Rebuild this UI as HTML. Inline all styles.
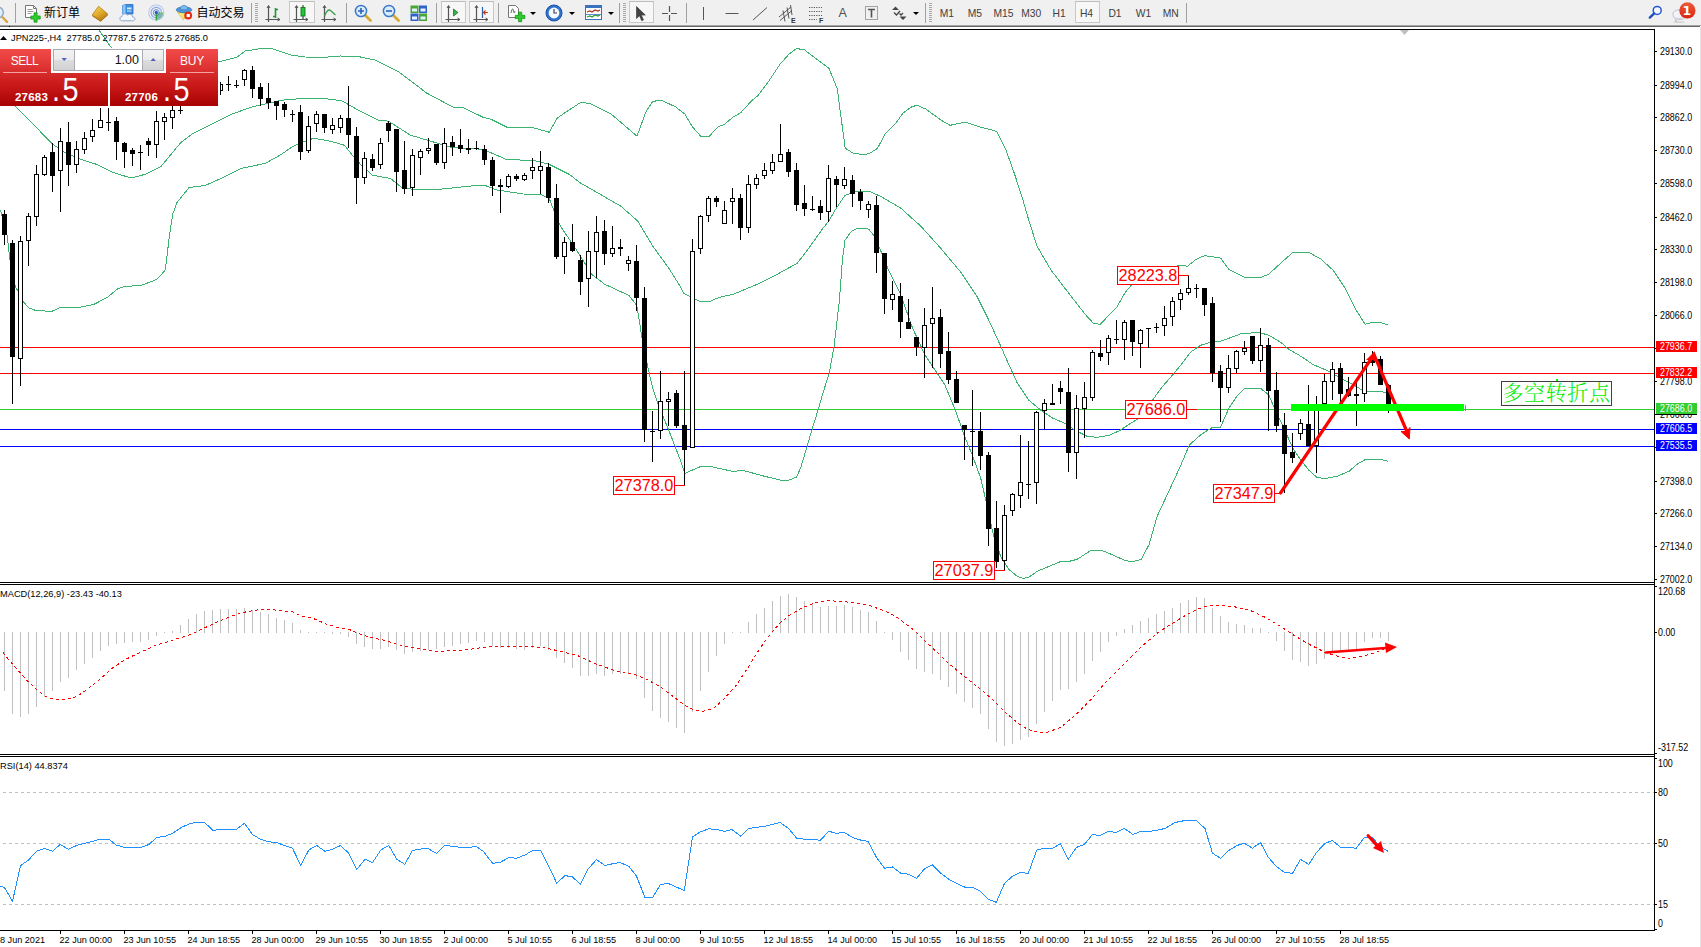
<!DOCTYPE html>
<html lang="zh">
<head>
<meta charset="utf-8">
<title>JPN225 H4</title>
<style>
html,body{margin:0;padding:0;background:#fff;}
body{width:1701px;height:947px;overflow:hidden;position:relative;font-family:"Liberation Sans","Noto Sans CJK SC",sans-serif;}
#tb{position:absolute;left:0;top:0;width:1701px;height:25px;background:#f0f0f0;border-bottom:1px solid #a6a6a6;}
#tb2{position:absolute;left:0;top:26px;width:1700px;height:1px;background:#666;}
#redge{position:absolute;left:1700px;top:27px;width:1px;height:920px;background:#e3e3e3;z-index:5}
.sep{position:absolute;top:3px;width:1px;height:20px;background:#a0a0a0;}
.grip{position:absolute;top:3px;width:3px;height:20px;background:repeating-linear-gradient(to bottom,#a8a8a8 0,#a8a8a8 1px,#f0f0f0 1px,#f0f0f0 2px);}
.act{position:absolute;top:1px;height:22px;width:24px;border:1px solid #c8c8c8;border-top-color:#bdbdbd;background:#f7f7f7;box-sizing:border-box;}
.tbt{position:absolute;top:5px;font-size:12px;line-height:14px;color:#000;white-space:nowrap;}
.tf{position:absolute;top:7px;width:30px;text-align:center;font-size:10.3px;line-height:13px;color:#404040;white-space:nowrap;}
.ic{position:absolute;top:4px;}
.dd{position:absolute;top:12px;width:0;height:0;border-left:3px solid transparent;border-right:3px solid transparent;border-top:3px solid #000;}
#panel{position:absolute;left:0;top:49px;width:218px;height:57px;}
#panel .blk{position:absolute;background:linear-gradient(to bottom,#f24a4a 0,#e03535 30%,#c81818 65%,#a80202 100%);}
#vol{position:absolute;left:53px;top:0;width:111px;height:22px;background:#fff;border:1px solid #a9a9b4;box-sizing:border-box;}
#vol .b{position:absolute;top:0;width:21px;height:20px;background:linear-gradient(to bottom,#f2f2f2 0,#ebebeb 48%,#dcdcdc 52%,#d2d2d2 100%);box-sizing:border-box;}
#vol .f{position:absolute;left:21px;top:0;width:67px;height:20px;background:#fff;font-size:12.5px;line-height:20px;text-align:right;padding-right:3px;box-sizing:border-box;color:#111;}
.pw{position:absolute;color:#fff;white-space:nowrap;}
</style>
</head>
<body>
<div id="tb">
<!-- cut-off magnifier at far left -->
<svg class="ic" style="left:0;top:5px" width="10" height="18" viewBox="0 0 10 18"><circle cx="-2.200" cy="7.500" r="5.500" fill="#dfeefa" stroke="#8aa6c8" stroke-width="1.400"/><line x1="2.800" y1="12.500" x2="7" y2="16.800" stroke="#d9a441" stroke-width="2.4" stroke-linecap="round"/></svg>
<div class="sep" style="left:15px"></div>
<!-- new order -->
<svg class="ic" style="left:24px;top:4px" width="18" height="19" viewBox="0 0 18 19"><path d="M1.5 1.5h8l3 3v9h-11z" fill="#fff" stroke="#777" stroke-width="1"/><path d="M9.5 1.5v3h3" fill="none" stroke="#777"/><path d="M3.5 5.5h5M3.5 7.5h6M3.5 9.5h4" stroke="#999" stroke-width="1"/><path d="M10 9h4v4h4v4h-4v4h-4v-4H6v-4h4z" transform="translate(2.2,1.8) scale(0.78)" fill="#2ccc2c" stroke="#159015" stroke-width="0.9"/></svg>
<div class="tbt" style="left:44px;top:5.5px">新订单</div>
<!-- yellow tag -->
<svg class="ic" style="left:91px;top:5px" width="18" height="17" viewBox="0 0 18 17"><defs><linearGradient id="gy" x1="0" y1="0" x2="0.600" y2="1"><stop offset="0" stop-color="#f8d860"/><stop offset="0.550" stop-color="#e4ac2c"/><stop offset="1" stop-color="#b87c10"/></linearGradient></defs><path d="M1.200 10L7.600 1.200 16.800 9l-7.200 6.800z" fill="url(#gy)" stroke="#a87410" stroke-width="0.700"/><path d="M1.200 10l8.400 5.800 7.200-6.800-.200 1.400-7 6.400-8.200-5.600z" fill="#a86c0c"/></svg>
<!-- cloud -->
<svg class="ic" style="left:119px;top:4px" width="18" height="18" viewBox="0 0 18 18"><path d="M3.500 1.500l3-1h7.500v9.500h-10.500z" fill="#3d8de0" stroke="#2a6cc0" stroke-width="0.800"/><path d="M3.500 1.500l3-1v9.500h-3z" fill="#8cc4f4"/><rect x="8" y="3.500" width="4.500" height="1.800" fill="#d8ecfc"/><rect x="8" y="6.500" width="4.500" height="1.200" fill="#bcdcf8"/><path d="M3.300 16.800c-3 0-3.200-4.200-.200-4.500.400-2.800 4.200-3.200 5.300-1.100 2-1.900 5.300-.700 5.200 1.800 3.300.200 3.100 3.800-.200 3.800z" fill="#f4f7fc" stroke="#7f9cc8" stroke-width="0.900"/></svg>
<!-- signal -->
<svg class="ic" style="left:147px;top:4px" width="19" height="19" viewBox="0 0 19 19"><path d="M9.300 8.600v8a8 8 0 0 0 7.600-8z" fill="#5cb868" opacity="0.850"/><circle cx="9.300" cy="8.600" r="7.600" fill="none" stroke="#b4c8ec" stroke-width="1.100"/><circle cx="9.300" cy="8.600" r="5.200" fill="none" stroke="#8aa8e0" stroke-width="1.100"/><circle cx="9.300" cy="8.600" r="3" fill="none" stroke="#6488d4" stroke-width="1"/><path d="M9.300 8.600v8" stroke="#28a038" stroke-width="1.300"/><circle cx="9.300" cy="8.400" r="1.600" fill="#2858c8"/></svg>
<!-- expert hat -->
<svg class="ic" style="left:174.500px;top:3px" width="19" height="19" viewBox="0 0 19 19"><path d="M2.500 9c2 .500 10 .500 12.500 0l-3.500 4.500-3.300 3z" fill="#f4d23c" stroke="#c09418" stroke-width="0.700"/><path d="M2.500 9l5.700 7.500 1-6z" fill="#f8e47c"/><ellipse cx="9" cy="6.800" rx="7.800" ry="2.900" fill="#4c98dc" stroke="#2c70b4" stroke-width="0.700"/><path d="M5 6c.300-4.800 7.700-4.800 8 0-2 1.200-6 1.200-8 0z" fill="#7cbcec" stroke="#2c70b4" stroke-width="0.600"/><circle cx="13.200" cy="12.500" r="3.900" fill="#e02c14"/><rect x="11.600" y="10.900" width="3.200" height="3.200" fill="#fff"/></svg>
<div class="tbt" style="left:196.500px;top:5.5px">自动交易</div>
<div class="sep" style="left:251px"></div>
<div class="grip" style="left:255px"></div>
<!-- bar chart -->
<svg class="ic" style="left:265px;top:4px" width="18" height="19" viewBox="0 0 18 19"><path d="M3.500 2v16M0.500 15.500h14" stroke="#555" stroke-width="1.200" fill="none"/><path d="M2 4l1.500-2.500L5 4M12.500 14l2.500 1.500-2.500 1.500" fill="none" stroke="#555" stroke-width="1"/><path d="M10.500 4v10M10.500 5.500h2.500M8 12.500h2.500" stroke="#1e9a32" stroke-width="1.600" fill="none"/></svg>
<div class="act" style="left:289px;width:26px"></div>
<!-- candle chart -->
<svg class="ic" style="left:293px;top:4px" width="18" height="19" viewBox="0 0 18 19"><path d="M3.500 2v16M0.500 15.500h14" stroke="#555" stroke-width="1.200" fill="none"/><path d="M2 4l1.500-2.500L5 4M12.500 14l2.500 1.500-2.500 1.500" fill="none" stroke="#555" stroke-width="1"/><path d="M10 1v14" stroke="#222" stroke-width="1"/><rect x="8" y="3.500" width="4" height="8.500" fill="#22c43a" stroke="#0f7a1e" stroke-width="0.900"/></svg>
<!-- line chart -->
<svg class="ic" style="left:321px;top:4px" width="18" height="19" viewBox="0 0 18 19"><path d="M3.500 2v16M0.500 15.500h14" stroke="#555" stroke-width="1.200" fill="none"/><path d="M2 4l1.500-2.500L5 4M12.500 14l2.500 1.500-2.500 1.500" fill="none" stroke="#555" stroke-width="1"/><path d="M3.500 12c2-5 4-7 6-5.500s3 3 5 4.500" fill="none" stroke="#3a9a48" stroke-width="1.300"/></svg>
<div class="sep" style="left:346px"></div>
<!-- zoom in -->
<svg class="ic" style="left:354px;top:4px" width="19" height="19" viewBox="0 0 19 19"><line x1="10.500" y1="10.500" x2="16.500" y2="16.500" stroke="#d8a832" stroke-width="2.800" stroke-linecap="round"/><circle cx="7" cy="7" r="5.600" fill="#d9ecfb" stroke="#3c78c8" stroke-width="1.500"/><path d="M4 7h6M7 4v6" stroke="#2a62b8" stroke-width="1.600"/></svg>
<!-- zoom out -->
<svg class="ic" style="left:382px;top:4px" width="19" height="19" viewBox="0 0 19 19"><line x1="10.500" y1="10.500" x2="16.500" y2="16.500" stroke="#d8a832" stroke-width="2.800" stroke-linecap="round"/><circle cx="7" cy="7" r="5.600" fill="#d9ecfb" stroke="#3c78c8" stroke-width="1.500"/><path d="M4 7h6" stroke="#2a62b8" stroke-width="1.600"/></svg>
<!-- tile -->
<svg class="ic" style="left:410px;top:5px" width="18" height="17" viewBox="0 0 18 17"><rect x="0.500" y="0.500" width="8" height="7.500" fill="#46a636"/><rect x="9" y="0.500" width="8" height="7.500" fill="#2f63c8"/><rect x="0.500" y="8.500" width="8" height="7.500" fill="#2f63c8"/><rect x="9" y="8.500" width="8" height="7.500" fill="#46a636"/><g fill="#e8f0ff"><rect x="2" y="3.500" width="5" height="3"/><rect x="10.500" y="3.500" width="5" height="3"/><rect x="2" y="11.500" width="5" height="3"/><rect x="10.500" y="11.500" width="5" height="3"/></g></svg>
<div class="sep" style="left:436px"></div>
<div class="act" style="left:441px;width:25px"></div>
<svg class="ic" style="left:445px;top:4px" width="18" height="19" viewBox="0 0 18 19"><path d="M3.500 2v16M0.500 15.500h14" stroke="#555" stroke-width="1.200" fill="none"/><path d="M2 4l1.500-2.500L5 4M12.500 14l2.500 1.500-2.500 1.500" fill="none" stroke="#555" stroke-width="1"/><path d="M8.500 5l4.500 3.500-4.500 3.500z" fill="#38b24a" stroke="#1c7a2a" stroke-width="0.800"/></svg>
<div class="act" style="left:469px;width:25px"></div>
<svg class="ic" style="left:473px;top:4px" width="18" height="19" viewBox="0 0 18 19"><path d="M3.500 2v16M0.500 15.500h14" stroke="#555" stroke-width="1.200" fill="none"/><path d="M2 4l1.500-2.500L5 4M12.500 14l2.500 1.500-2.500 1.500" fill="none" stroke="#555" stroke-width="1"/><path d="M9.500 3v11" stroke="#2a5fb0" stroke-width="1.200"/><path d="M15 8.500h-4M12.500 6.500l-2 2 2 2" fill="none" stroke="#d03818" stroke-width="1.200"/></svg>
<div class="sep" style="left:498px"></div>
<!-- indicators + -->
<svg class="ic" style="left:507px;top:4px" width="20" height="19" viewBox="0 0 20 19"><path d="M1.500 1.500h7l3 3v9h-10z" fill="#fff" stroke="#777"/><path d="M4 9c1-5 2-5 2.500-2s1 2 1.500 0" fill="none" stroke="#555" stroke-width="0.900"/><path d="M10 7h4v4h4v4h-4v4h-4v-4H6v-4h4z" transform="translate(3.500,2.500) scale(0.800)" fill="#2ccc2c" stroke="#159015" stroke-width="0.900"/></svg>
<div class="dd" style="left:530px"></div>
<!-- clock -->
<svg class="ic" style="left:545px;top:4px" width="18" height="18" viewBox="0 0 18 18"><circle cx="9" cy="9" r="8" fill="#2f72d0" stroke="#1b4fa0" stroke-width="1"/><circle cx="9" cy="9" r="5.400" fill="#f4f8ff"/><path d="M9 5v4h3" fill="none" stroke="#444" stroke-width="1.200"/></svg>
<div class="dd" style="left:569px"></div>
<!-- template -->
<svg class="ic" style="left:585px;top:5px" width="17" height="15" viewBox="0 0 17 15"><rect x="0.500" y="0.500" width="16" height="14" fill="#fff" stroke="#3a72c0"/><rect x="0.500" y="0.500" width="16" height="2.500" fill="#3a72c0"/><path d="M2 7l3-1 2 1 3-2 3 1 2-1" fill="none" stroke="#b03020" stroke-width="1.200"/><path d="M2 12l3-1 2 1 3-2 3 1 2-1" fill="none" stroke="#2c9a3a" stroke-width="1.200"/><path d="M1 9.500h15" stroke="#3a72c0" stroke-width="0.800"/></svg>
<div class="dd" style="left:608px"></div>
<div class="sep" style="left:619px"></div>
<div class="grip" style="left:623px"></div>
<div class="act" style="left:629px;width:25px"></div>
<svg class="ic" style="left:636px;top:6px" width="10" height="16" viewBox="0 0 10 16"><path d="M0.500 0.500v12l3-2.800 2.200 5 1.800-.8-2.200-4.800h4z" fill="#444" stroke="#333" stroke-width="0.600"/></svg>
<svg class="ic" style="left:661px;top:5px" width="17" height="17" viewBox="0 0 17 17"><path d="M8.500 1v6M8.500 10v6M1 8.500h6M10 8.500h6" stroke="#555" stroke-width="1.200"/></svg>
<div class="sep" style="left:686px"></div>
<svg class="ic" style="left:699px;top:5px" width="8" height="17" viewBox="0 0 8 17"><path d="M4.5 2v13" stroke="#555" stroke-width="1"/></svg>
<svg class="ic" style="left:724px;top:5px" width="16" height="17" viewBox="0 0 16 17"><path d="M1.500 8.500h13" stroke="#555" stroke-width="1"/></svg>
<svg class="ic" style="left:751px;top:5px" width="18" height="17" viewBox="0 0 18 17"><path d="M2 15L16 2.500" stroke="#555" stroke-width="1"/></svg>
<svg class="ic" style="left:778px;top:4px" width="20" height="19" viewBox="0 0 20 19"><path d="M1 13L13 3M2 16.500L14 6.500M5 6.500l2 11M9 3.500l2 11M12.500 1l1.500 10" stroke="#555" stroke-width="1" fill="none"/><text x="13" y="18.500" font-family="Liberation Sans,sans-serif" font-size="7" font-weight="bold" fill="#333">E</text></svg>
<svg class="ic" style="left:808px;top:5px" width="18" height="18" viewBox="0 0 18 18"><path d="M1 2.500h13M1 6.500h13M1 10.500h13M1 14.500h8" stroke="#555" stroke-width="1" stroke-dasharray="1.200,1.200"/><text x="11" y="17.500" font-family="Liberation Sans,sans-serif" font-size="7" font-weight="bold" fill="#333">F</text></svg>
<div class="tbt" style="left:838.5px;top:6px;font-size:12.5px;line-height:15px;color:#505050">A</div>
<svg class="ic" style="left:864px;top:5px" width="16" height="16" viewBox="0 0 16 16"><rect x="1.500" y="1.500" width="12" height="13" fill="none" stroke="#555" stroke-width="1" stroke-dasharray="1,1"/><path d="M4 4.500h7M7.500 4.500v8" stroke="#555" stroke-width="1.600"/></svg>
<svg class="ic" style="left:891px;top:6px" width="17" height="15" viewBox="0 0 17 15"><path d="M4.500 0.500l3.500 3.500h-7zM12 14l-3.500-3.500h7z" fill="#444"/><path d="M3 6.500l2.500 2.500 3.500-4M8.500 7.500l1.500 1.500 2-2" fill="none" stroke="#444" stroke-width="1.300"/></svg>
<div class="dd" style="left:913px"></div>
<div class="sep" style="left:925px"></div>
<div class="grip" style="left:929px"></div>
<div class="tf" style="left:931.9px">M1</div>
<div class="tf" style="left:959.8px">M5</div>
<div class="tf" style="left:988.4px">M15</div>
<div class="tf" style="left:1016.3px">M30</div>
<div class="tf" style="left:1044.2px">H1</div>
<div class="act" style="left:1075px;width:25px"></div>
<div class="tf" style="left:1071.5px">H4</div>
<div class="tf" style="left:1100.0px">D1</div>
<div class="tf" style="left:1128.6px">W1</div>
<div class="tf" style="left:1155.7px">MN</div>
<div class="sep" style="left:1186px"></div>
<!-- search -->
<svg class="ic" style="left:1646.500px;top:5px" width="16" height="16" viewBox="0 0 16 16"><circle cx="10.200" cy="5.400" r="4" fill="#f4f6fe" stroke="#2858d0" stroke-width="1.500"/><line x1="7.200" y1="8.400" x2="2.800" y2="12.600" stroke="#1c50c4" stroke-width="2.400" stroke-linecap="round"/></svg>
<!-- chat -->
<svg class="ic" style="left:1666px;top:1px" width="33" height="24" viewBox="0 0 33 24"><defs><linearGradient id="gb" x1="0" y1="0" x2="0" y2="1"><stop offset="0" stop-color="#ec5c3c"/><stop offset="1" stop-color="#d82410"/></linearGradient></defs><ellipse cx="13" cy="21.200" rx="6" ry="0.900" fill="#c8c8c8" opacity="0.700"/><path d="M7 13c0-5.500 12.500-5.500 12.500.500s-5.500 5-8 4.600l-1.600 2.600-.600-3c-1.500-.900-2.300-2.500-2.300-4.700z" fill="#f2f2f8" stroke="#b4b4bc" stroke-width="0.800"/><path d="M8 15.500c2 2 8 2 10.500-.500-1 3-7 4-9 2.500z" fill="#d4d4e0"/><circle cx="21.400" cy="9.400" r="8.100" fill="url(#gb)"/><text x="20.800" y="14" text-anchor="middle" font-family="DejaVu Sans,Liberation Sans,sans-serif" font-size="12.500" font-weight="bold" fill="#fff">1</text></svg>
</div>
<div id="tb2"></div><div style="position:absolute;left:9px;top:26px;width:1px;height:3px;background:#000"></div><div id="redge"></div>
<svg id="chart" width="1701" height="947" viewBox="0 0 1701 947" style="position:absolute;left:0;top:0">
<defs><clipPath id="cm"><rect x="0" y="30" width="1654" height="552"/></clipPath></defs>
<rect x="0" y="27" width="1701" height="920" fill="#fff"/>
<g shape-rendering="crispEdges">
<rect x="0" y="347" width="1654" height="1" fill="#ff0000"/>
<rect x="0" y="373" width="1654" height="1" fill="#ff0000"/>
<rect x="0" y="409" width="1654" height="1" fill="#32cd32"/>
<rect x="0" y="429" width="1654" height="1" fill="#0000ff"/>
<rect x="0" y="446" width="1654" height="1" fill="#0000ff"/>
</g>
<g clip-path="url(#cm)" fill="none" stroke="#3cb371" stroke-width="1" shape-rendering="crispEdges">
<polyline points="97.0,27.0 99.0,30.0 110.0,46.0 125.5,66.0 150.5,78.0 180.5,74.0 205.5,65.0 221.2,61.1 237.2,57.1 245.2,51.0 261.3,48.5 273.3,49.0 291.4,55.0 305.4,57.0 321.5,57.5 340.5,56.0 360.5,57.0 374.6,60.0 398.7,72.0 426.8,93.1 452.9,107.1 462.9,107.5 483.0,117.2 491.0,119.2 507.0,127.2 531.1,127.2 549.2,132.2 557.2,118.2 567.2,111.2 581.3,102.1 591.3,104.1 611.3,114.2 637.0,136.2 640.5,126.6 646.3,110.9 652.7,101.4 661.4,100.2 675.4,106.8 684.7,113.8 692.2,126.6 700.9,136.4 709.1,136.4 717.8,127.1 724.7,124.2 733.5,116.7 740.4,113.0 752.0,100.4 757.9,95.8 768.3,81.8 779.9,64.4 789.2,53.9 796.2,48.7 800.5,49.1 804.7,50.0 816.7,59.1 828.8,68.1 833.8,80.1 837.4,89.1 839.8,108.2 842.8,130.3 845.2,148.3 852.8,152.9 860.9,154.3 868.9,153.9 877.5,148.3 884.9,134.3 895.0,124.3 903.0,113.2 911.0,107.2 917.0,105.2 926.1,109.2 941.1,120.2 950.1,125.3 965.2,122.2 981.2,127.3 993.3,130.3 997.3,132.3 1005.3,148.3 1013.3,170.4 1021.3,194.5 1027.2,215.0 1037.0,246.2 1051.1,270.2 1071.1,296.3 1085.2,314.4 1093.2,323.0 1100.2,324.4 1117.3,306.4 1125.3,292.3 1131.3,285.3 1150.5,275.0 1179.5,265.2 1187.5,266.2 1196.5,259.1 1204.6,255.6 1220.6,258.1 1228.6,269.1 1244.7,277.5 1260.7,277.5 1268.8,274.1 1280.8,263.1 1292.8,252.4 1308.9,252.4 1320.9,259.1 1333.0,270.1 1345.0,288.1 1355.0,308.2 1365.1,324.3 1371.1,322.8 1381.1,322.8 1388.5,325.3"/>
<polyline points="0.5,92.0 17.5,108.2 52.7,144.3 64.7,152.4 80.7,159.4 96.8,164.4 112.8,172.4 130.9,178.0 144.9,174.4 161.0,166.4 171.0,154.4 181.0,142.3 193.1,133.3 211.1,124.3 231.2,114.3 251.3,107.2 281.3,100.2 305.4,98.2 330.5,99.1 342.5,101.1 356.5,109.1 378.5,120.2 388.5,121.2 410.5,135.2 430.8,141.2 450.9,147.3 483.0,149.3 507.0,159.7 533.1,160.3 549.0,164.3 569.2,174.3 580.5,183.0 592.7,190.0 620.7,206.1 637.8,221.1 652.8,246.2 668.9,268.3 678.9,284.3 683.9,293.3 689.9,296.3 699.0,301.0 710.0,301.4 719.0,297.4 733.1,294.3 757.2,284.3 777.2,274.3 797.3,263.2 807.3,250.2 821.7,230.0 829.4,220.1 834.8,210.5 844.8,195.5 856.9,191.5 868.9,191.1 880.9,196.5 900.6,208.0 920.7,226.1 940.7,248.2 960.8,272.2 976.9,296.3 988.9,320.4 1000.9,346.5 1006.8,360.0 1016.8,382.1 1028.8,400.2 1040.9,410.2 1052.9,418.2 1064.9,423.3 1075.0,430.3 1087.0,436.3 1097.0,437.3 1109.1,435.3 1119.1,430.9 1129.1,424.3 1139.2,418.2 1153.2,399.2 1161.2,388.1 1173.3,374.1 1180.5,365.4 1190.5,352.3 1200.5,345.3 1208.6,342.9 1220.6,341.3 1240.7,333.9 1258.7,332.3 1268.8,335.3 1280.8,342.3 1288.8,349.3 1300.9,356.3 1312.9,364.4 1328.9,371.4 1341.0,378.4 1353.0,384.4 1361.0,389.4 1369.1,391.5 1381.1,391.5 1387.1,393.5"/>
<polyline points="0.5,210.5 7.0,234.8 10.3,262.7 15.5,287.0 19.1,292.9 23.7,302.2 28.8,308.0 35.3,310.3 51.5,311.5 60.5,307.3 79.5,307.3 93.5,304.5 107.3,297.5 117.8,288.7 124.7,286.4 141.0,285.5 156.1,279.7 164.9,270.8 166.5,260.4 169.5,234.8 172.8,213.9 177.0,202.5 189.1,187.5 205.1,185.5 221.2,178.4 241.2,168.4 265.3,163.4 281.3,154.4 291.4,147.4 299.4,143.3 313.4,138.3 325.5,140.3 330.5,141.2 344.5,145.3 352.5,155.3 360.5,164.3 372.5,175.3 390.5,178.4 402.7,188.4 416.8,189.4 438.8,189.4 470.9,186.0 485.0,185.4 497.0,190.0 523.1,194.0 541.1,194.4 549.2,198.4 554.5,212.1 560.5,226.1 576.6,250.2 591.7,274.3 604.7,284.3 628.8,295.3 636.8,305.4 641.8,336.5 647.6,366.1 652.7,388.2 658.7,406.2 664.7,420.3 672.7,440.3 679.7,458.4 684.8,473.4 700.8,466.4 709.8,466.4 732.9,471.4 742.9,470.4 765.0,476.4 780.0,480.0 789.1,480.0 796.7,477.0 801.1,466.4 807.1,446.3 812.1,429.3 818.2,409.6 823.2,392.2 829.2,373.5 834.0,347.0 839.4,300.4 842.4,260.2 845.0,240.2 851.4,231.2 857.5,228.1 865.5,228.1 868.5,229.1 874.5,236.1 880.5,250.2 888.5,270.2 900.5,294.3 912.7,328.4 924.7,354.5 932.5,366.1 944.5,384.1 954.6,408.2 964.6,436.3 972.7,456.0 980.7,478.1 986.7,504.2 993.7,536.3 1000.7,556.4 1008.8,569.4 1016.8,576.0 1022.8,578.4 1028.8,577.4 1036.9,571.4 1048.9,566.4 1060.9,561.4 1068.9,561.4 1077.0,559.4 1091.0,550.3 1101.0,550.0 1111.1,554.3 1125.1,560.4 1132.1,561.8 1141.2,559.4 1149.2,544.3 1157.2,516.2 1169.3,490.2 1181.3,464.1 1189.3,445.0 1201.3,434.3 1211.4,428.0 1220.6,427.0 1229.0,408.0 1237.0,396.0 1244.7,388.4 1250.7,389.0 1260.7,388.4 1268.8,395.0 1274.8,409.0 1284.8,430.2 1292.8,448.2 1300.9,460.2 1308.9,470.3 1316.9,477.3 1324.9,478.7 1337.0,476.3 1349.0,471.3 1357.0,464.3 1365.1,459.6 1381.1,459.6 1388.1,461.2"/>
</g>
<g shape-rendering="crispEdges">
<rect x="4" y="210" width="1" height="35" fill="#000"/>
<rect x="2" y="214" width="5" height="21" fill="#000"/>
<rect x="12" y="240" width="1" height="164" fill="#000"/>
<rect x="10" y="243" width="5" height="114" fill="#000"/>
<rect x="20" y="236" width="1" height="150" fill="#000"/>
<rect x="18.5" y="241.5" width="4" height="117" fill="#fff" stroke="#000" stroke-width="1"/>
<rect x="28" y="213" width="1" height="53" fill="#000"/>
<rect x="26.5" y="216.5" width="4" height="24" fill="#fff" stroke="#000" stroke-width="1"/>
<rect x="36" y="165" width="1" height="61" fill="#000"/>
<rect x="34.5" y="174.5" width="4" height="42" fill="#fff" stroke="#000" stroke-width="1"/>
<rect x="44" y="155" width="1" height="21" fill="#000"/>
<rect x="42.5" y="157.5" width="4" height="17" fill="#fff" stroke="#000" stroke-width="1"/>
<rect x="52" y="143" width="1" height="49" fill="#000"/>
<rect x="50" y="152" width="5" height="24" fill="#000"/>
<rect x="60" y="128" width="1" height="84" fill="#000"/>
<rect x="58.5" y="141.5" width="4" height="29" fill="#fff" stroke="#000" stroke-width="1"/>
<rect x="68" y="122" width="1" height="64" fill="#000"/>
<rect x="66" y="142" width="5" height="23" fill="#000"/>
<rect x="76" y="141" width="1" height="32" fill="#000"/>
<rect x="74.5" y="149.5" width="4" height="15" fill="#fff" stroke="#000" stroke-width="1"/>
<rect x="84" y="132" width="1" height="22" fill="#000"/>
<rect x="82.5" y="138.5" width="4" height="11" fill="#fff" stroke="#000" stroke-width="1"/>
<rect x="92" y="119" width="1" height="23" fill="#000"/>
<rect x="90.5" y="130.5" width="4" height="6" fill="#fff" stroke="#000" stroke-width="1"/>
<rect x="100" y="108" width="1" height="20" fill="#000"/>
<rect x="98.5" y="120.5" width="4" height="7" fill="#fff" stroke="#000" stroke-width="1"/>
<rect x="108" y="108" width="1" height="23" fill="#000"/>
<rect x="106" y="122" width="5" height="1" fill="#000"/>
<rect x="116" y="117" width="1" height="43" fill="#000"/>
<rect x="114" y="121" width="5" height="21" fill="#000"/>
<rect x="124" y="142" width="1" height="26" fill="#000"/>
<rect x="122" y="143" width="5" height="9" fill="#000"/>
<rect x="132" y="148" width="1" height="18" fill="#000"/>
<rect x="130" y="150" width="5" height="4" fill="#000"/>
<rect x="140" y="145" width="1" height="25" fill="#000"/>
<rect x="138" y="152" width="5" height="1" fill="#000"/>
<rect x="148" y="138" width="1" height="18" fill="#000"/>
<rect x="146" y="141" width="5" height="4" fill="#000"/>
<rect x="156" y="111" width="1" height="47" fill="#000"/>
<rect x="154.5" y="121.5" width="4" height="23" fill="#fff" stroke="#000" stroke-width="1"/>
<rect x="164" y="113" width="1" height="27" fill="#000"/>
<rect x="162.5" y="117.5" width="4" height="4" fill="#fff" stroke="#000" stroke-width="1"/>
<rect x="172" y="104" width="1" height="25" fill="#000"/>
<rect x="170.5" y="110.5" width="4" height="7" fill="#fff" stroke="#000" stroke-width="1"/>
<rect x="180" y="100" width="1" height="14" fill="#000"/>
<rect x="178" y="110" width="5" height="1" fill="#000"/>
<rect x="188" y="92" width="1" height="12" fill="#000"/>
<rect x="186.5" y="96.5" width="4" height="6" fill="#fff" stroke="#000" stroke-width="1"/>
<rect x="196" y="86" width="1" height="13" fill="#000"/>
<rect x="194.5" y="90.5" width="4" height="6" fill="#fff" stroke="#000" stroke-width="1"/>
<rect x="204" y="84" width="1" height="12" fill="#000"/>
<rect x="202" y="88" width="5" height="4" fill="#000"/>
<rect x="212" y="80" width="1" height="13" fill="#000"/>
<rect x="210.5" y="84.5" width="4" height="5" fill="#fff" stroke="#000" stroke-width="1"/>
<rect x="220" y="82" width="1" height="13" fill="#000"/>
<rect x="221" y="84" width="2" height="1" fill="#000"/><rect x="221" y="90" width="2" height="1" fill="#000"/><rect x="222" y="84" width="1" height="7" fill="#000"/>
<rect x="228" y="76" width="1" height="15" fill="#000"/>
<rect x="226" y="84" width="5" height="1" fill="#000"/>
<rect x="236" y="80" width="1" height="8" fill="#000"/>
<rect x="234" y="85" width="5" height="1" fill="#000"/>
<rect x="244" y="69" width="1" height="17" fill="#000"/>
<rect x="242.5" y="70.5" width="4" height="9" fill="#fff" stroke="#000" stroke-width="1"/>
<rect x="252" y="66" width="1" height="32" fill="#000"/>
<rect x="250" y="70" width="5" height="19" fill="#000"/>
<rect x="260" y="83" width="1" height="23" fill="#000"/>
<rect x="258" y="87" width="5" height="12" fill="#000"/>
<rect x="268" y="83" width="1" height="26" fill="#000"/>
<rect x="266" y="98" width="5" height="5" fill="#000"/>
<rect x="276" y="101" width="1" height="19" fill="#000"/>
<rect x="274" y="101" width="5" height="5" fill="#000"/>
<rect x="284" y="102" width="1" height="15" fill="#000"/>
<rect x="282" y="104" width="5" height="6" fill="#000"/>
<rect x="292" y="110" width="1" height="12" fill="#000"/>
<rect x="290" y="114" width="5" height="1" fill="#000"/>
<rect x="300" y="105" width="1" height="55" fill="#000"/>
<rect x="298" y="112" width="5" height="40" fill="#000"/>
<rect x="308" y="116" width="1" height="37" fill="#000"/>
<rect x="306.5" y="126.5" width="4" height="24" fill="#fff" stroke="#000" stroke-width="1"/>
<rect x="316" y="111" width="1" height="21" fill="#000"/>
<rect x="314.5" y="114.5" width="4" height="9" fill="#fff" stroke="#000" stroke-width="1"/>
<rect x="324" y="114" width="1" height="19" fill="#000"/>
<rect x="322" y="114" width="5" height="14" fill="#000"/>
<rect x="332" y="118" width="1" height="16" fill="#000"/>
<rect x="330.5" y="125.5" width="4" height="4" fill="#fff" stroke="#000" stroke-width="1"/>
<rect x="340" y="115" width="1" height="18" fill="#000"/>
<rect x="338.5" y="118.5" width="4" height="9" fill="#fff" stroke="#000" stroke-width="1"/>
<rect x="348" y="86" width="1" height="62" fill="#000"/>
<rect x="346" y="118" width="5" height="17" fill="#000"/>
<rect x="356" y="127" width="1" height="77" fill="#000"/>
<rect x="354" y="136" width="5" height="42" fill="#000"/>
<rect x="364" y="152" width="1" height="32" fill="#000"/>
<rect x="362.5" y="158.5" width="4" height="19" fill="#fff" stroke="#000" stroke-width="1"/>
<rect x="372" y="154" width="1" height="17" fill="#000"/>
<rect x="370" y="159" width="5" height="9" fill="#000"/>
<rect x="380" y="138" width="1" height="31" fill="#000"/>
<rect x="378.5" y="143.5" width="4" height="21" fill="#fff" stroke="#000" stroke-width="1"/>
<rect x="388" y="121" width="1" height="21" fill="#000"/>
<rect x="386" y="123" width="5" height="8" fill="#000"/>
<rect x="396" y="129" width="1" height="63" fill="#000"/>
<rect x="394" y="129" width="5" height="43" fill="#000"/>
<rect x="404" y="141" width="1" height="53" fill="#000"/>
<rect x="402" y="170" width="5" height="19" fill="#000"/>
<rect x="412" y="149" width="1" height="47" fill="#000"/>
<rect x="410.5" y="155.5" width="4" height="32" fill="#fff" stroke="#000" stroke-width="1"/>
<rect x="420" y="149" width="1" height="26" fill="#000"/>
<rect x="418.5" y="151.5" width="4" height="6" fill="#fff" stroke="#000" stroke-width="1"/>
<rect x="428" y="138" width="1" height="16" fill="#000"/>
<rect x="426.5" y="148.5" width="4" height="2" fill="#fff" stroke="#000" stroke-width="1"/>
<rect x="436" y="144" width="1" height="21" fill="#000"/>
<rect x="434" y="144" width="5" height="19" fill="#000"/>
<rect x="444" y="128" width="1" height="41" fill="#000"/>
<rect x="442.5" y="143.5" width="4" height="19" fill="#fff" stroke="#000" stroke-width="1"/>
<rect x="452" y="136" width="1" height="20" fill="#000"/>
<rect x="450" y="142" width="5" height="5" fill="#000"/>
<rect x="460" y="129" width="1" height="24" fill="#000"/>
<rect x="458" y="145" width="5" height="4" fill="#000"/>
<rect x="468" y="139" width="1" height="15" fill="#000"/>
<rect x="466" y="148" width="5" height="2" fill="#000"/>
<rect x="476" y="141" width="1" height="9" fill="#000"/>
<rect x="474" y="148" width="5" height="1" fill="#000"/>
<rect x="484" y="145" width="1" height="20" fill="#000"/>
<rect x="482" y="149" width="5" height="11" fill="#000"/>
<rect x="492" y="157" width="1" height="39" fill="#000"/>
<rect x="490" y="160" width="5" height="26" fill="#000"/>
<rect x="500" y="179" width="1" height="34" fill="#000"/>
<rect x="498" y="185" width="5" height="2" fill="#000"/>
<rect x="508" y="174" width="1" height="14" fill="#000"/>
<rect x="506.5" y="176.5" width="4" height="10" fill="#fff" stroke="#000" stroke-width="1"/>
<rect x="516" y="174" width="1" height="7" fill="#000"/>
<rect x="514" y="176" width="5" height="3" fill="#000"/>
<rect x="524" y="173" width="1" height="8" fill="#000"/>
<rect x="522.5" y="175.5" width="4" height="4" fill="#fff" stroke="#000" stroke-width="1"/>
<rect x="532" y="158" width="1" height="21" fill="#000"/>
<rect x="530.5" y="167.5" width="4" height="3" fill="#fff" stroke="#000" stroke-width="1"/>
<rect x="540" y="151" width="1" height="43" fill="#000"/>
<rect x="538.5" y="166.5" width="4" height="4" fill="#fff" stroke="#000" stroke-width="1"/>
<rect x="548" y="163" width="1" height="40" fill="#000"/>
<rect x="546" y="167" width="5" height="31" fill="#000"/>
<rect x="556" y="184" width="1" height="75" fill="#000"/>
<rect x="554" y="198" width="5" height="59" fill="#000"/>
<rect x="564" y="237" width="1" height="37" fill="#000"/>
<rect x="562.5" y="242.5" width="4" height="14" fill="#fff" stroke="#000" stroke-width="1"/>
<rect x="572" y="224" width="1" height="28" fill="#000"/>
<rect x="570" y="242" width="5" height="9" fill="#000"/>
<rect x="580" y="255" width="1" height="40" fill="#000"/>
<rect x="578" y="260" width="5" height="22" fill="#000"/>
<rect x="588" y="231" width="1" height="76" fill="#000"/>
<rect x="586.5" y="251.5" width="4" height="27" fill="#fff" stroke="#000" stroke-width="1"/>
<rect x="596" y="216" width="1" height="62" fill="#000"/>
<rect x="594.5" y="232.5" width="4" height="19" fill="#fff" stroke="#000" stroke-width="1"/>
<rect x="604" y="220" width="1" height="45" fill="#000"/>
<rect x="602" y="231" width="5" height="23" fill="#000"/>
<rect x="612" y="226" width="1" height="31" fill="#000"/>
<rect x="610.5" y="248.5" width="4" height="5" fill="#fff" stroke="#000" stroke-width="1"/>
<rect x="620" y="239" width="1" height="17" fill="#000"/>
<rect x="618" y="247" width="5" height="2" fill="#000"/>
<rect x="628" y="256" width="1" height="15" fill="#000"/>
<rect x="626.5" y="260.5" width="4" height="3" fill="#fff" stroke="#000" stroke-width="1"/>
<rect x="636" y="245" width="1" height="66" fill="#000"/>
<rect x="634" y="261" width="5" height="37" fill="#000"/>
<rect x="644" y="287" width="1" height="155" fill="#000"/>
<rect x="642" y="298" width="5" height="132" fill="#000"/>
<rect x="652" y="411" width="1" height="51" fill="#000"/>
<rect x="650" y="431" width="5" height="1" fill="#000"/>
<rect x="660" y="371" width="1" height="68" fill="#000"/>
<rect x="658.5" y="401.5" width="4" height="29" fill="#fff" stroke="#000" stroke-width="1"/>
<rect x="668" y="392" width="1" height="34" fill="#000"/>
<rect x="666.5" y="399.5" width="4" height="2" fill="#fff" stroke="#000" stroke-width="1"/>
<rect x="676" y="390" width="1" height="38" fill="#000"/>
<rect x="674" y="393" width="5" height="33" fill="#000"/>
<rect x="684" y="371" width="1" height="115" fill="#000"/>
<rect x="682" y="425" width="5" height="25" fill="#000"/>
<rect x="692" y="239" width="1" height="209" fill="#000"/>
<rect x="690.5" y="251.5" width="4" height="196" fill="#fff" stroke="#000" stroke-width="1"/>
<rect x="700" y="215" width="1" height="39" fill="#000"/>
<rect x="698.5" y="216.5" width="4" height="32" fill="#fff" stroke="#000" stroke-width="1"/>
<rect x="708" y="196" width="1" height="26" fill="#000"/>
<rect x="706.5" y="198.5" width="4" height="17" fill="#fff" stroke="#000" stroke-width="1"/>
<rect x="716" y="196" width="1" height="11" fill="#000"/>
<rect x="714" y="198" width="5" height="4" fill="#000"/>
<rect x="724" y="201" width="1" height="23" fill="#000"/>
<rect x="722.5" y="210.5" width="4" height="13" fill="#fff" stroke="#000" stroke-width="1"/>
<rect x="732" y="188" width="1" height="36" fill="#000"/>
<rect x="730.5" y="198.5" width="4" height="3" fill="#fff" stroke="#000" stroke-width="1"/>
<rect x="740" y="194" width="1" height="46" fill="#000"/>
<rect x="738" y="198" width="5" height="30" fill="#000"/>
<rect x="748" y="175" width="1" height="58" fill="#000"/>
<rect x="746.5" y="184.5" width="4" height="43" fill="#fff" stroke="#000" stroke-width="1"/>
<rect x="756" y="174" width="1" height="15" fill="#000"/>
<rect x="754.5" y="178.5" width="4" height="6" fill="#fff" stroke="#000" stroke-width="1"/>
<rect x="764" y="163" width="1" height="16" fill="#000"/>
<rect x="762.5" y="170.5" width="4" height="5" fill="#fff" stroke="#000" stroke-width="1"/>
<rect x="772" y="154" width="1" height="20" fill="#000"/>
<rect x="770.5" y="162.5" width="4" height="8" fill="#fff" stroke="#000" stroke-width="1"/>
<rect x="780" y="124" width="1" height="38" fill="#000"/>
<rect x="778.5" y="154.5" width="4" height="7" fill="#fff" stroke="#000" stroke-width="1"/>
<rect x="788" y="149" width="1" height="28" fill="#000"/>
<rect x="786" y="152" width="5" height="20" fill="#000"/>
<rect x="796" y="163" width="1" height="48" fill="#000"/>
<rect x="794" y="170" width="5" height="35" fill="#000"/>
<rect x="804" y="185" width="1" height="31" fill="#000"/>
<rect x="802" y="203" width="5" height="6" fill="#000"/>
<rect x="812" y="196" width="1" height="15" fill="#000"/>
<rect x="810" y="209" width="5" height="1" fill="#000"/>
<rect x="820" y="200" width="1" height="20" fill="#000"/>
<rect x="818" y="206" width="5" height="7" fill="#000"/>
<rect x="828" y="165" width="1" height="57" fill="#000"/>
<rect x="826.5" y="178.5" width="4" height="33" fill="#fff" stroke="#000" stroke-width="1"/>
<rect x="836" y="176" width="1" height="31" fill="#000"/>
<rect x="834" y="179" width="5" height="6" fill="#000"/>
<rect x="844" y="167" width="1" height="22" fill="#000"/>
<rect x="842.5" y="179.5" width="4" height="6" fill="#fff" stroke="#000" stroke-width="1"/>
<rect x="852" y="175" width="1" height="32" fill="#000"/>
<rect x="850" y="180" width="5" height="14" fill="#000"/>
<rect x="860" y="189" width="1" height="21" fill="#000"/>
<rect x="858" y="192" width="5" height="9" fill="#000"/>
<rect x="868" y="201" width="1" height="17" fill="#000"/>
<rect x="866.5" y="204.5" width="4" height="5" fill="#fff" stroke="#000" stroke-width="1"/>
<rect x="876" y="196" width="1" height="77" fill="#000"/>
<rect x="874" y="205" width="5" height="48" fill="#000"/>
<rect x="884" y="253" width="1" height="61" fill="#000"/>
<rect x="882" y="253" width="5" height="46" fill="#000"/>
<rect x="892" y="281" width="1" height="29" fill="#000"/>
<rect x="890.5" y="294.5" width="4" height="5" fill="#fff" stroke="#000" stroke-width="1"/>
<rect x="900" y="283" width="1" height="55" fill="#000"/>
<rect x="898" y="296" width="5" height="26" fill="#000"/>
<rect x="908" y="299" width="1" height="30" fill="#000"/>
<rect x="906" y="322" width="5" height="7" fill="#000"/>
<rect x="916" y="337" width="1" height="19" fill="#000"/>
<rect x="914" y="337" width="5" height="10" fill="#000"/>
<rect x="924" y="308" width="1" height="70" fill="#000"/>
<rect x="922.5" y="325.5" width="4" height="22" fill="#fff" stroke="#000" stroke-width="1"/>
<rect x="932" y="287" width="1" height="81" fill="#000"/>
<rect x="930.5" y="318.5" width="4" height="5" fill="#fff" stroke="#000" stroke-width="1"/>
<rect x="940" y="309" width="1" height="59" fill="#000"/>
<rect x="938" y="317" width="5" height="37" fill="#000"/>
<rect x="948" y="332" width="1" height="52" fill="#000"/>
<rect x="946" y="351" width="5" height="29" fill="#000"/>
<rect x="956" y="371" width="1" height="32" fill="#000"/>
<rect x="954" y="379" width="5" height="24" fill="#000"/>
<rect x="964" y="425" width="1" height="35" fill="#000"/>
<rect x="962" y="425" width="5" height="5" fill="#000"/>
<rect x="972" y="390" width="1" height="76" fill="#000"/>
<rect x="970" y="431" width="5" height="1" fill="#000"/>
<rect x="980" y="412" width="1" height="58" fill="#000"/>
<rect x="978" y="431" width="5" height="25" fill="#000"/>
<rect x="988" y="452" width="1" height="94" fill="#000"/>
<rect x="986" y="455" width="5" height="74" fill="#000"/>
<rect x="996" y="501" width="1" height="67" fill="#000"/>
<rect x="994" y="528" width="5" height="34" fill="#000"/>
<rect x="1004" y="505" width="1" height="65" fill="#000"/>
<rect x="1002.5" y="515.5" width="4" height="45" fill="#fff" stroke="#000" stroke-width="1"/>
<rect x="1012" y="493" width="1" height="23" fill="#000"/>
<rect x="1010.5" y="494.5" width="4" height="16" fill="#fff" stroke="#000" stroke-width="1"/>
<rect x="1020" y="435" width="1" height="73" fill="#000"/>
<rect x="1018.5" y="482.5" width="4" height="13" fill="#fff" stroke="#000" stroke-width="1"/>
<rect x="1028" y="441" width="1" height="58" fill="#000"/>
<rect x="1026" y="484" width="5" height="1" fill="#000"/>
<rect x="1036" y="411" width="1" height="93" fill="#000"/>
<rect x="1034.5" y="412.5" width="4" height="70" fill="#fff" stroke="#000" stroke-width="1"/>
<rect x="1044" y="399" width="1" height="30" fill="#000"/>
<rect x="1042.5" y="403.5" width="4" height="7" fill="#fff" stroke="#000" stroke-width="1"/>
<rect x="1052" y="384" width="1" height="21" fill="#000"/>
<rect x="1050" y="403" width="5" height="2" fill="#000"/>
<rect x="1060" y="381" width="1" height="23" fill="#000"/>
<rect x="1058" y="388" width="5" height="4" fill="#000"/>
<rect x="1068" y="368" width="1" height="104" fill="#000"/>
<rect x="1066" y="392" width="5" height="61" fill="#000"/>
<rect x="1076" y="395" width="1" height="84" fill="#000"/>
<rect x="1074.5" y="408.5" width="4" height="44" fill="#fff" stroke="#000" stroke-width="1"/>
<rect x="1084" y="382" width="1" height="56" fill="#000"/>
<rect x="1082.5" y="397.5" width="4" height="11" fill="#fff" stroke="#000" stroke-width="1"/>
<rect x="1092" y="350" width="1" height="51" fill="#000"/>
<rect x="1090.5" y="352.5" width="4" height="45" fill="#fff" stroke="#000" stroke-width="1"/>
<rect x="1100" y="340" width="1" height="21" fill="#000"/>
<rect x="1098" y="353" width="5" height="4" fill="#000"/>
<rect x="1108" y="335" width="1" height="30" fill="#000"/>
<rect x="1106.5" y="338.5" width="4" height="14" fill="#fff" stroke="#000" stroke-width="1"/>
<rect x="1116" y="320" width="1" height="24" fill="#000"/>
<rect x="1114" y="339" width="5" height="1" fill="#000"/>
<rect x="1124" y="320" width="1" height="40" fill="#000"/>
<rect x="1122.5" y="322.5" width="4" height="17" fill="#fff" stroke="#000" stroke-width="1"/>
<rect x="1132" y="320" width="1" height="36" fill="#000"/>
<rect x="1130" y="320" width="5" height="22" fill="#000"/>
<rect x="1140" y="329" width="1" height="39" fill="#000"/>
<rect x="1138.5" y="330.5" width="4" height="13" fill="#fff" stroke="#000" stroke-width="1"/>
<rect x="1148" y="328" width="1" height="20" fill="#000"/>
<rect x="1146" y="328" width="5" height="1" fill="#000"/>
<rect x="1156" y="323" width="1" height="10" fill="#000"/>
<rect x="1154" y="327" width="5" height="1" fill="#000"/>
<rect x="1164" y="306" width="1" height="30" fill="#000"/>
<rect x="1162.5" y="318.5" width="4" height="7" fill="#fff" stroke="#000" stroke-width="1"/>
<rect x="1172" y="297" width="1" height="29" fill="#000"/>
<rect x="1170.5" y="301.5" width="4" height="15" fill="#fff" stroke="#000" stroke-width="1"/>
<rect x="1180" y="289" width="1" height="21" fill="#000"/>
<rect x="1178.5" y="293.5" width="4" height="6" fill="#fff" stroke="#000" stroke-width="1"/>
<rect x="1188" y="276" width="1" height="19" fill="#000"/>
<rect x="1186.5" y="288.5" width="4" height="4" fill="#fff" stroke="#000" stroke-width="1"/>
<rect x="1196" y="284" width="1" height="14" fill="#000"/>
<rect x="1194" y="288" width="5" height="1" fill="#000"/>
<rect x="1204" y="288" width="1" height="28" fill="#000"/>
<rect x="1202" y="288" width="5" height="17" fill="#000"/>
<rect x="1212" y="297" width="1" height="85" fill="#000"/>
<rect x="1210" y="303" width="5" height="70" fill="#000"/>
<rect x="1220" y="365" width="1" height="57" fill="#000"/>
<rect x="1218" y="371" width="5" height="17" fill="#000"/>
<rect x="1228" y="355" width="1" height="38" fill="#000"/>
<rect x="1226.5" y="368.5" width="4" height="19" fill="#fff" stroke="#000" stroke-width="1"/>
<rect x="1236" y="350" width="1" height="23" fill="#000"/>
<rect x="1234.5" y="351.5" width="4" height="17" fill="#fff" stroke="#000" stroke-width="1"/>
<rect x="1244" y="341" width="1" height="14" fill="#000"/>
<rect x="1242.5" y="348.5" width="4" height="3" fill="#fff" stroke="#000" stroke-width="1"/>
<rect x="1252" y="336" width="1" height="28" fill="#000"/>
<rect x="1250" y="336" width="5" height="25" fill="#000"/>
<rect x="1260" y="328" width="1" height="44" fill="#000"/>
<rect x="1258.5" y="345.5" width="4" height="15" fill="#fff" stroke="#000" stroke-width="1"/>
<rect x="1268" y="338" width="1" height="93" fill="#000"/>
<rect x="1266" y="345" width="5" height="46" fill="#000"/>
<rect x="1276" y="372" width="1" height="60" fill="#000"/>
<rect x="1274" y="390" width="5" height="36" fill="#000"/>
<rect x="1284" y="413" width="1" height="80" fill="#000"/>
<rect x="1282" y="425" width="5" height="29" fill="#000"/>
<rect x="1292" y="433" width="1" height="30" fill="#000"/>
<rect x="1290" y="452" width="5" height="6" fill="#000"/>
<rect x="1300" y="419" width="1" height="21" fill="#000"/>
<rect x="1298.5" y="423.5" width="4" height="10" fill="#fff" stroke="#000" stroke-width="1"/>
<rect x="1308" y="385" width="1" height="61" fill="#000"/>
<rect x="1306" y="424" width="5" height="22" fill="#000"/>
<rect x="1316" y="396" width="1" height="77" fill="#000"/>
<rect x="1314.5" y="410.5" width="4" height="35" fill="#fff" stroke="#000" stroke-width="1"/>
<rect x="1324" y="374" width="1" height="34" fill="#000"/>
<rect x="1322.5" y="381.5" width="4" height="22" fill="#fff" stroke="#000" stroke-width="1"/>
<rect x="1332" y="362" width="1" height="38" fill="#000"/>
<rect x="1330.5" y="369.5" width="4" height="12" fill="#fff" stroke="#000" stroke-width="1"/>
<rect x="1340" y="363" width="1" height="41" fill="#000"/>
<rect x="1338" y="368" width="5" height="26" fill="#000"/>
<rect x="1348" y="377" width="1" height="20" fill="#000"/>
<rect x="1346" y="389" width="5" height="7" fill="#000"/>
<rect x="1356" y="383" width="1" height="43" fill="#000"/>
<rect x="1354" y="394" width="5" height="2" fill="#000"/>
<rect x="1364" y="353" width="1" height="49" fill="#000"/>
<rect x="1362.5" y="362.5" width="4" height="31" fill="#fff" stroke="#000" stroke-width="1"/>
<rect x="1372" y="351" width="1" height="15" fill="#000"/>
<rect x="1370" y="356" width="5" height="7" fill="#000"/>
<rect x="1380" y="356" width="1" height="29" fill="#000"/>
<rect x="1378" y="359" width="5" height="26" fill="#000"/>
<rect x="1388" y="384" width="1" height="29" fill="#000"/>
<rect x="1386" y="385" width="5" height="25" fill="#000"/>
</g>
<g stroke="#ff0000" stroke-width="3.2" fill="none" stroke-linecap="round" stroke-linejoin="miter">
<polyline points="1280.5,493 1374,354.5 1407.5,433"/>
</g>
<polygon points="1374.5,351.5 1366,360 1372.5,360 1377.5,363" fill="#ff0000"/>
<polygon points="1409.3,439 1401,431.5 1406.5,431.5 1410,427.5" fill="#ff0000" stroke="#ff0000" stroke-width="1" stroke-linejoin="round"/>
<rect x="1291" y="404" width="173" height="7" fill="#00ff00" shape-rendering="crispEdges"/>
<rect x="1465" y="405" width="1" height="6" fill="#32cd32" shape-rendering="crispEdges"/>
<rect x="613.5" y="476.5" width="61" height="18" fill="#fff" stroke="#ff0000" stroke-width="1" shape-rendering="crispEdges"/>
<text x="644.0" y="491.4" text-anchor="middle" font-family="Liberation Sans, sans-serif" font-size="16.3" fill="#ff0000">27378.0</text>
<rect x="675" y="485" width="10" height="1" fill="#ff0000" shape-rendering="crispEdges"/>
<rect x="933.5" y="561.5" width="61" height="18" fill="#fff" stroke="#ff0000" stroke-width="1" shape-rendering="crispEdges"/>
<text x="964.0" y="576.4" text-anchor="middle" font-family="Liberation Sans, sans-serif" font-size="16.3" fill="#ff0000">27037.9</text>
<rect x="995" y="570" width="10" height="1" fill="#ff0000" shape-rendering="crispEdges"/>
<rect x="1117.5" y="266.5" width="61" height="18" fill="#fff" stroke="#ff0000" stroke-width="1" shape-rendering="crispEdges"/>
<text x="1148.0" y="281.4" text-anchor="middle" font-family="Liberation Sans, sans-serif" font-size="16.3" fill="#ff0000">28223.8</text>
<rect x="1179" y="275" width="10" height="1" fill="#ff0000" shape-rendering="crispEdges"/>
<rect x="1125.5" y="400.5" width="61" height="18" fill="#fff" stroke="#ff0000" stroke-width="1" shape-rendering="crispEdges"/>
<text x="1156.0" y="415.4" text-anchor="middle" font-family="Liberation Sans, sans-serif" font-size="16.3" fill="#ff0000">27686.0</text>
<rect x="1187" y="409" width="10" height="1" fill="#ff0000" shape-rendering="crispEdges"/>
<rect x="1213.5" y="484.5" width="61" height="18" fill="#fff" stroke="#ff0000" stroke-width="1" shape-rendering="crispEdges"/>
<text x="1244.0" y="499.4" text-anchor="middle" font-family="Liberation Sans, sans-serif" font-size="16.3" fill="#ff0000">27347.9</text>
<rect x="1275" y="493" width="5" height="1" fill="#ff0000" shape-rendering="crispEdges"/>
<rect x="1501.5" y="381.5" width="110" height="24" fill="#fff" stroke="#404040" stroke-width="1" shape-rendering="crispEdges"/>
<text x="1556.5" y="400" text-anchor="middle" font-family="Liberation Serif, Noto Serif CJK SC, serif" font-size="21" font-weight="300" fill="#00ee00" letter-spacing="0.6">多空转折点</text>
<rect x="1556" y="379" width="2" height="2" fill="#00ff00"/>
<polygon points="1400,30 1409,30 1404.5,35" fill="#c0c0c0"/>
<g shape-rendering="crispEdges" fill="#c0c0c0">
<rect x="4" y="632" width="1" height="59"/>
<rect x="12" y="632" width="1" height="82"/>
<rect x="20" y="632" width="1" height="85"/>
<rect x="28" y="632" width="1" height="82"/>
<rect x="36" y="632" width="1" height="75"/>
<rect x="44" y="632" width="1" height="65"/>
<rect x="52" y="632" width="1" height="59"/>
<rect x="60" y="632" width="1" height="50"/>
<rect x="68" y="632" width="1" height="46"/>
<rect x="76" y="632" width="1" height="38"/>
<rect x="84" y="632" width="1" height="32"/>
<rect x="92" y="632" width="1" height="26"/>
<rect x="100" y="632" width="1" height="19"/>
<rect x="108" y="632" width="1" height="14"/>
<rect x="116" y="632" width="1" height="12"/>
<rect x="124" y="632" width="1" height="11"/>
<rect x="132" y="632" width="1" height="10"/>
<rect x="140" y="632" width="1" height="10"/>
<rect x="148" y="632" width="1" height="8"/>
<rect x="156" y="632" width="1" height="4"/>
<rect x="164" y="632" width="1" height="1"/>
<rect x="172" y="631" width="1" height="2"/>
<rect x="180" y="625" width="1" height="8"/>
<rect x="188" y="619" width="1" height="14"/>
<rect x="196" y="614" width="1" height="19"/>
<rect x="204" y="611" width="1" height="22"/>
<rect x="212" y="610" width="1" height="23"/>
<rect x="220" y="609" width="1" height="24"/>
<rect x="228" y="609" width="1" height="24"/>
<rect x="236" y="609" width="1" height="24"/>
<rect x="244" y="608" width="1" height="25"/>
<rect x="252" y="610" width="1" height="23"/>
<rect x="260" y="612" width="1" height="21"/>
<rect x="268" y="614" width="1" height="19"/>
<rect x="276" y="618" width="1" height="15"/>
<rect x="284" y="620" width="1" height="13"/>
<rect x="292" y="623" width="1" height="10"/>
<rect x="300" y="630" width="1" height="3"/>
<rect x="308" y="632" width="1" height="1"/>
<rect x="316" y="632" width="1" height="1"/>
<rect x="324" y="632" width="1" height="1"/>
<rect x="332" y="632" width="1" height="2"/>
<rect x="340" y="632" width="1" height="2"/>
<rect x="348" y="632" width="1" height="5"/>
<rect x="356" y="632" width="1" height="12"/>
<rect x="364" y="632" width="1" height="15"/>
<rect x="372" y="632" width="1" height="17"/>
<rect x="380" y="632" width="1" height="17"/>
<rect x="388" y="632" width="1" height="15"/>
<rect x="396" y="632" width="1" height="18"/>
<rect x="404" y="632" width="1" height="22"/>
<rect x="412" y="632" width="1" height="20"/>
<rect x="420" y="632" width="1" height="19"/>
<rect x="428" y="632" width="1" height="18"/>
<rect x="436" y="632" width="1" height="17"/>
<rect x="444" y="632" width="1" height="15"/>
<rect x="452" y="632" width="1" height="14"/>
<rect x="460" y="632" width="1" height="12"/>
<rect x="468" y="632" width="1" height="11"/>
<rect x="476" y="632" width="1" height="9"/>
<rect x="484" y="632" width="1" height="10"/>
<rect x="492" y="632" width="1" height="14"/>
<rect x="500" y="632" width="1" height="16"/>
<rect x="508" y="632" width="1" height="16"/>
<rect x="516" y="632" width="1" height="17"/>
<rect x="524" y="632" width="1" height="18"/>
<rect x="532" y="632" width="1" height="16"/>
<rect x="540" y="632" width="1" height="14"/>
<rect x="548" y="632" width="1" height="18"/>
<rect x="556" y="632" width="1" height="26"/>
<rect x="564" y="632" width="1" height="31"/>
<rect x="572" y="632" width="1" height="36"/>
<rect x="580" y="632" width="1" height="44"/>
<rect x="588" y="632" width="1" height="44"/>
<rect x="596" y="632" width="1" height="42"/>
<rect x="604" y="632" width="1" height="44"/>
<rect x="612" y="632" width="1" height="42"/>
<rect x="620" y="632" width="1" height="42"/>
<rect x="628" y="632" width="1" height="41"/>
<rect x="636" y="632" width="1" height="47"/>
<rect x="644" y="632" width="1" height="66"/>
<rect x="652" y="632" width="1" height="79"/>
<rect x="660" y="632" width="1" height="86"/>
<rect x="668" y="632" width="1" height="90"/>
<rect x="676" y="632" width="1" height="96"/>
<rect x="684" y="632" width="1" height="101"/>
<rect x="692" y="632" width="1" height="80"/>
<rect x="700" y="632" width="1" height="59"/>
<rect x="708" y="632" width="1" height="40"/>
<rect x="716" y="632" width="1" height="24"/>
<rect x="724" y="632" width="1" height="12"/>
<rect x="732" y="632" width="1" height="1"/>
<rect x="740" y="632" width="1" height="1"/>
<rect x="748" y="622" width="1" height="11"/>
<rect x="756" y="614" width="1" height="19"/>
<rect x="764" y="608" width="1" height="25"/>
<rect x="772" y="601" width="1" height="32"/>
<rect x="780" y="596" width="1" height="37"/>
<rect x="788" y="594" width="1" height="39"/>
<rect x="796" y="597" width="1" height="36"/>
<rect x="804" y="601" width="1" height="32"/>
<rect x="812" y="604" width="1" height="29"/>
<rect x="820" y="607" width="1" height="26"/>
<rect x="828" y="606" width="1" height="27"/>
<rect x="836" y="606" width="1" height="27"/>
<rect x="844" y="605" width="1" height="28"/>
<rect x="852" y="607" width="1" height="26"/>
<rect x="860" y="610" width="1" height="23"/>
<rect x="868" y="612" width="1" height="21"/>
<rect x="876" y="621" width="1" height="12"/>
<rect x="884" y="632" width="1" height="1"/>
<rect x="892" y="632" width="1" height="8"/>
<rect x="900" y="632" width="1" height="20"/>
<rect x="908" y="632" width="1" height="28"/>
<rect x="916" y="632" width="1" height="37"/>
<rect x="924" y="632" width="1" height="40"/>
<rect x="932" y="632" width="1" height="42"/>
<rect x="940" y="632" width="1" height="48"/>
<rect x="948" y="632" width="1" height="55"/>
<rect x="956" y="632" width="1" height="62"/>
<rect x="964" y="632" width="1" height="70"/>
<rect x="972" y="632" width="1" height="76"/>
<rect x="980" y="632" width="1" height="82"/>
<rect x="988" y="632" width="1" height="97"/>
<rect x="996" y="632" width="1" height="110"/>
<rect x="1004" y="632" width="1" height="114"/>
<rect x="1012" y="632" width="1" height="112"/>
<rect x="1020" y="632" width="1" height="108"/>
<rect x="1028" y="632" width="1" height="105"/>
<rect x="1036" y="632" width="1" height="92"/>
<rect x="1044" y="632" width="1" height="80"/>
<rect x="1052" y="632" width="1" height="69"/>
<rect x="1060" y="632" width="1" height="58"/>
<rect x="1068" y="632" width="1" height="57"/>
<rect x="1076" y="632" width="1" height="50"/>
<rect x="1084" y="632" width="1" height="42"/>
<rect x="1092" y="632" width="1" height="29"/>
<rect x="1100" y="632" width="1" height="20"/>
<rect x="1108" y="632" width="1" height="10"/>
<rect x="1116" y="632" width="1" height="4"/>
<rect x="1124" y="629" width="1" height="4"/>
<rect x="1132" y="625" width="1" height="8"/>
<rect x="1140" y="621" width="1" height="12"/>
<rect x="1148" y="618" width="1" height="15"/>
<rect x="1156" y="614" width="1" height="19"/>
<rect x="1164" y="611" width="1" height="22"/>
<rect x="1172" y="608" width="1" height="25"/>
<rect x="1180" y="603" width="1" height="30"/>
<rect x="1188" y="600" width="1" height="33"/>
<rect x="1196" y="597" width="1" height="36"/>
<rect x="1204" y="598" width="1" height="35"/>
<rect x="1212" y="608" width="1" height="25"/>
<rect x="1220" y="616" width="1" height="17"/>
<rect x="1228" y="622" width="1" height="11"/>
<rect x="1236" y="624" width="1" height="9"/>
<rect x="1244" y="625" width="1" height="8"/>
<rect x="1252" y="628" width="1" height="5"/>
<rect x="1260" y="628" width="1" height="5"/>
<rect x="1268" y="632" width="1" height="1"/>
<rect x="1276" y="632" width="1" height="9"/>
<rect x="1284" y="632" width="1" height="19"/>
<rect x="1292" y="632" width="1" height="28"/>
<rect x="1300" y="632" width="1" height="30"/>
<rect x="1308" y="632" width="1" height="34"/>
<rect x="1316" y="632" width="1" height="32"/>
<rect x="1324" y="632" width="1" height="27"/>
<rect x="1332" y="632" width="1" height="20"/>
<rect x="1340" y="632" width="1" height="19"/>
<rect x="1348" y="632" width="1" height="18"/>
<rect x="1356" y="632" width="1" height="17"/>
<rect x="1364" y="632" width="1" height="10"/>
<rect x="1372" y="632" width="1" height="6"/>
<rect x="1380" y="632" width="1" height="6"/>
<rect x="1388" y="632" width="1" height="9"/>
</g>
<polyline points="3.0,652.5 8.0,658.8 15.5,667.5 25.5,678.8 35.5,688.8 45.5,696.3 54.3,699.5 60.5,700.0 73.0,698.3 83.0,692.5 93.0,685.0 103.0,676.3 113.0,667.5 125.5,659.5 138.0,653.3 155.5,645.5 175.5,639.3 190.5,634.5 205.5,627.5 220.5,620.5 233.0,615.5 245.5,612.0 258.0,609.8 270.5,609.5 283.0,610.8 293.0,612.0 300.5,615.8 313.0,618.3 325.5,623.8 338.0,627.5 350.5,630.0 358.0,633.3 370.5,637.5 383.0,640.0 395.5,643.8 408.0,647.0 420.5,648.8 435.5,651.3 460.5,650.5 490.5,646.5 525.5,646.5 543.0,647.5 560.5,651.3 578.0,655.8 595.5,663.8 615.5,670.8 633.0,673.8 648.0,680.0 660.5,687.0 673.0,696.3 685.5,705.8 695.5,710.5 703.0,711.3 713.0,708.8 723.0,700.0 735.5,686.3 748.0,667.5 760.5,647.5 770.5,633.8 780.5,622.5 790.5,614.5 803.0,607.5 815.5,602.5 828.0,600.8 843.0,601.3 855.5,603.3 870.5,605.8 885.5,611.3 895.5,616.3 915.5,631.3 928.0,643.8 950.5,665.0 970.5,681.3 990.5,697.5 1005.5,712.5 1018.0,723.3 1028.0,729.5 1038.0,732.0 1048.0,732.0 1060.5,727.5 1075.5,715.0 1090.5,700.0 1105.5,682.5 1123.0,665.0 1140.5,647.5 1158.0,632.5 1170.5,624.5 1183.0,616.8 1195.5,610.0 1205.5,606.3 1220.5,605.3 1235.5,607.0 1250.5,610.5 1265.5,617.5 1280.5,626.3 1295.5,636.3 1310.5,645.0 1325.5,652.5 1340.5,657.0 1350.5,658.3 1363.0,656.3 1375.5,652.5 1388.0,647.5" fill="none" stroke="#ff0000" stroke-width="1" stroke-dasharray="3,3" shape-rendering="crispEdges"/>
<g stroke="#ff0000" stroke-width="2.6" fill="none" stroke-linecap="round"><line x1="1326" y1="652.5" x2="1392" y2="647.5"/></g>
<polygon points="1397,647 1385,642.5 1386,653" fill="#ff0000"/>
<g shape-rendering="crispEdges" stroke="#c0c0c0" stroke-width="1" stroke-dasharray="3,3">
<line x1="3" y1="792.5" x2="1654" y2="792.5"/>
<line x1="3" y1="843.5" x2="1654" y2="843.5"/>
<line x1="3" y1="904.5" x2="1654" y2="904.5"/>
</g>
<polyline points="0.0,886.3 4.5,887.5 12.5,901.3 20.5,865.8 28.5,860.0 36.5,851.3 44.5,848.3 52.5,851.3 60.0,844.5 68.5,849.3 76.5,845.5 85.0,843.3 92.5,841.3 100.0,839.3 108.8,839.3 116.3,845.0 124.3,847.3 132.5,847.3 141.3,847.3 148.8,844.5 156.8,837.5 165.0,836.3 172.5,833.3 181.3,827.5 189.3,823.8 196.3,822.3 204.5,822.3 213.0,830.5 220.0,829.3 236.3,829.3 244.5,823.3 252.5,834.5 260.5,839.3 268.8,841.8 276.8,842.5 285.0,845.8 292.5,848.3 300.8,865.5 308.8,850.0 316.8,845.5 325.0,851.3 332.5,849.3 340.5,845.5 348.8,853.3 356.8,869.5 365.0,859.3 372.5,862.5 380.8,850.0 388.8,845.5 396.8,859.3 404.8,864.3 412.5,850.5 418.8,849.3 427.5,848.3 436.5,853.3 444.5,845.5 452.5,846.3 460.0,847.3 470.0,847.3 476.3,846.3 483.8,851.8 492.5,863.3 500.0,862.5 508.8,857.5 516.3,858.3 525.0,855.0 532.5,850.5 540.8,850.5 548.8,866.3 556.8,883.3 565.0,875.5 572.5,877.0 580.5,884.3 588.3,868.8 596.5,859.5 605.0,865.5 612.5,863.8 620.0,862.5 628.8,866.3 636.3,875.8 645.0,897.5 652.5,897.5 660.5,884.5 668.0,883.3 676.3,887.0 684.3,890.5 692.5,837.0 700.0,832.0 708.8,828.8 716.3,829.5 724.5,831.3 732.0,829.5 740.8,836.3 748.8,828.5 756.3,827.3 765.0,826.3 772.5,824.3 780.0,822.5 788.3,828.3 796.8,838.3 805.0,839.3 815.0,839.3 820.0,840.5 828.8,831.3 836.3,833.3 844.5,832.5 852.5,837.5 860.5,840.0 868.0,841.3 876.3,857.0 884.5,868.3 892.5,867.0 900.5,873.0 908.8,874.3 916.5,878.3 925.0,868.3 932.5,865.0 940.5,873.0 948.8,879.3 956.8,883.3 965.0,887.3 972.5,887.3 980.5,891.3 988.8,899.5 996.3,902.3 1004.5,883.3 1012.5,876.3 1020.0,872.5 1028.3,873.3 1036.8,850.0 1044.5,848.3 1052.5,848.3 1060.5,843.8 1068.3,859.3 1076.3,847.5 1084.5,844.3 1092.5,834.5 1100.0,835.5 1108.3,831.3 1116.3,832.5 1124.3,828.5 1133.0,834.5 1140.8,831.3 1150.0,831.3 1156.3,830.3 1165.0,828.5 1175.0,822.5 1185.0,820.5 1196.3,820.5 1205.0,828.5 1212.5,853.3 1220.8,858.3 1228.8,850.5 1236.8,845.5 1244.5,843.3 1252.5,848.3 1260.5,842.5 1268.0,857.0 1276.3,866.3 1284.5,872.5 1292.5,873.3 1300.5,859.5 1308.8,864.3 1316.5,852.5 1325.0,843.3 1332.5,840.5 1340.5,847.3 1348.8,847.3 1356.3,848.3 1364.5,837.3 1372.0,837.3 1380.0,846.3 1388.0,851.3" fill="none" stroke="#1e90ff" stroke-width="1" shape-rendering="crispEdges"/>
<line x1="1368" y1="835.5" x2="1380" y2="849" stroke="#ff0000" stroke-width="3" stroke-linecap="round"/>
<polygon points="1384,853 1373,848 1381,841" fill="#ff0000"/>
<g shape-rendering="crispEdges" fill="#000">
<rect x="0" y="29" width="1655" height="1"/>
<rect x="1654" y="29" width="1" height="902"/>
<rect x="0" y="582" width="1655" height="1"/>
<rect x="0" y="584" width="1655" height="1"/>
<rect x="0" y="754" width="1655" height="1"/>
<rect x="0" y="756" width="1655" height="1"/>
<rect x="0" y="930" width="1655" height="1"/>
<rect x="1655" y="51" width="2" height="1"/>
<rect x="1655" y="85" width="2" height="1"/>
<rect x="1655" y="117" width="2" height="1"/>
<rect x="1655" y="150" width="2" height="1"/>
<rect x="1655" y="183" width="2" height="1"/>
<rect x="1655" y="217" width="2" height="1"/>
<rect x="1655" y="249" width="2" height="1"/>
<rect x="1655" y="282" width="2" height="1"/>
<rect x="1655" y="315" width="2" height="1"/>
<rect x="1655" y="348" width="2" height="1"/>
<rect x="1655" y="381" width="2" height="1"/>
<rect x="1655" y="414" width="2" height="1"/>
<rect x="1655" y="447" width="2" height="1"/>
<rect x="1655" y="481" width="2" height="1"/>
<rect x="1655" y="513" width="2" height="1"/>
<rect x="1655" y="546" width="2" height="1"/>
<rect x="1655" y="579" width="2" height="1"/>
<rect x="1655" y="586" width="2" height="1"/>
<rect x="1655" y="632" width="2" height="1"/>
<rect x="1655" y="753" width="2" height="1"/>
<rect x="1655" y="758" width="2" height="1"/>
<rect x="1655" y="792" width="2" height="1"/>
<rect x="1655" y="843" width="2" height="1"/>
<rect x="1655" y="904" width="2" height="1"/>
<rect x="1655" y="929" width="2" height="1"/>
<rect x="60" y="931" width="1" height="3"/>
<rect x="124" y="931" width="1" height="3"/>
<rect x="188" y="931" width="1" height="3"/>
<rect x="252" y="931" width="1" height="3"/>
<rect x="316" y="931" width="1" height="3"/>
<rect x="380" y="931" width="1" height="3"/>
<rect x="444" y="931" width="1" height="3"/>
<rect x="508" y="931" width="1" height="3"/>
<rect x="572" y="931" width="1" height="3"/>
<rect x="636" y="931" width="1" height="3"/>
<rect x="700" y="931" width="1" height="3"/>
<rect x="764" y="931" width="1" height="3"/>
<rect x="828" y="931" width="1" height="3"/>
<rect x="892" y="931" width="1" height="3"/>
<rect x="956" y="931" width="1" height="3"/>
<rect x="1020" y="931" width="1" height="3"/>
<rect x="1084" y="931" width="1" height="3"/>
<rect x="1148" y="931" width="1" height="3"/>
<rect x="1212" y="931" width="1" height="3"/>
<rect x="1276" y="931" width="1" height="3"/>
<rect x="1340" y="931" width="1" height="3"/>
</g>
<g font-family="Liberation Sans, sans-serif" font-size="9.1" fill="#000">
<text x="1660" y="54.9" font-size="10.1" textLength="32.1" lengthAdjust="spacingAndGlyphs">29130.0</text>
<text x="1660" y="88.9" font-size="10.1" textLength="32.1" lengthAdjust="spacingAndGlyphs">28994.0</text>
<text x="1660" y="120.9" font-size="10.1" textLength="32.1" lengthAdjust="spacingAndGlyphs">28862.0</text>
<text x="1660" y="153.9" font-size="10.1" textLength="32.1" lengthAdjust="spacingAndGlyphs">28730.0</text>
<text x="1660" y="186.9" font-size="10.1" textLength="32.1" lengthAdjust="spacingAndGlyphs">28598.0</text>
<text x="1660" y="220.9" font-size="10.1" textLength="32.1" lengthAdjust="spacingAndGlyphs">28462.0</text>
<text x="1660" y="252.9" font-size="10.1" textLength="32.1" lengthAdjust="spacingAndGlyphs">28330.0</text>
<text x="1660" y="285.9" font-size="10.1" textLength="32.1" lengthAdjust="spacingAndGlyphs">28198.0</text>
<text x="1660" y="318.9" font-size="10.1" textLength="32.1" lengthAdjust="spacingAndGlyphs">28066.0</text>
<text x="1660" y="384.9" font-size="10.1" textLength="32.1" lengthAdjust="spacingAndGlyphs">27798.0</text>
<text x="1660" y="417.9" font-size="10.1" textLength="32.1" lengthAdjust="spacingAndGlyphs">27666.0</text>
<text x="1660" y="484.9" font-size="10.1" textLength="32.1" lengthAdjust="spacingAndGlyphs">27398.0</text>
<text x="1660" y="516.9" font-size="10.1" textLength="32.1" lengthAdjust="spacingAndGlyphs">27266.0</text>
<text x="1660" y="549.9" font-size="10.1" textLength="32.1" lengthAdjust="spacingAndGlyphs">27134.0</text>
<text x="1660" y="582.9" font-size="10.1" textLength="32.1" lengthAdjust="spacingAndGlyphs">27002.0</text>
<text x="1658" y="595.4" font-size="10.1" textLength="27.2" lengthAdjust="spacingAndGlyphs">120.68</text>
<text x="1658" y="635.9" font-size="10.1" textLength="17.3" lengthAdjust="spacingAndGlyphs">0.00</text>
<text x="1658" y="751.4" font-size="10.1" textLength="30.2" lengthAdjust="spacingAndGlyphs">-317.52</text>
<text x="1658" y="767.4" font-size="10.1" textLength="14.8" lengthAdjust="spacingAndGlyphs">100</text>
<text x="1658" y="796.4" font-size="10.1" textLength="9.9" lengthAdjust="spacingAndGlyphs">80</text>
<text x="1658" y="847.4" font-size="10.1" textLength="9.9" lengthAdjust="spacingAndGlyphs">50</text>
<text x="1658" y="908.4" font-size="10.1" textLength="9.9" lengthAdjust="spacingAndGlyphs">15</text>
<text x="1658" y="927.4" font-size="10.1" textLength="4.9" lengthAdjust="spacingAndGlyphs">0</text>
<text x="0" y="943">8 Jun 2021</text>
<text x="59.5" y="943">22 Jun 00:00</text>
<text x="123.5" y="943">23 Jun 10:55</text>
<text x="187.5" y="943">24 Jun 18:55</text>
<text x="251.5" y="943">28 Jun 00:00</text>
<text x="315.5" y="943">29 Jun 10:55</text>
<text x="379.5" y="943">30 Jun 18:55</text>
<text x="443.5" y="943">2 Jul 00:00</text>
<text x="507.5" y="943">5 Jul 10:55</text>
<text x="571.5" y="943">6 Jul 18:55</text>
<text x="635.5" y="943">8 Jul 00:00</text>
<text x="699.5" y="943">9 Jul 10:55</text>
<text x="763.5" y="943">12 Jul 18:55</text>
<text x="827.5" y="943">14 Jul 00:00</text>
<text x="891.5" y="943">15 Jul 10:55</text>
<text x="955.5" y="943">16 Jul 18:55</text>
<text x="1019.5" y="943">20 Jul 00:00</text>
<text x="1083.5" y="943">21 Jul 10:55</text>
<text x="1147.5" y="943">22 Jul 18:55</text>
<text x="1211.5" y="943">26 Jul 00:00</text>
<text x="1275.5" y="943">27 Jul 10:55</text>
<text x="1339.5" y="943">28 Jul 18:55</text>
<text x="11" y="41" font-size="9.25">JPN225-,H4&#160;&#160;27785.0 27787.5 27672.5 27685.0</text>
<text x="0" y="597" font-size="9.25">MACD(12,26,9) -23.43 -40.13</text>
<text x="0" y="769" font-size="9.25">RSI(14) 44.8374</text>
</g>
<polygon points="0,40 7,40 3.5,36" fill="#000"/>
<rect x="1656" y="341" width="41" height="11" fill="#ff0000" shape-rendering="crispEdges"/>
<text x="1660" y="350" font-family="Liberation Sans, sans-serif" font-size="10.1" textLength="32.1" lengthAdjust="spacingAndGlyphs" fill="#fff">27936.7</text>
<rect x="1656" y="367" width="41" height="11" fill="#ff0000" shape-rendering="crispEdges"/>
<text x="1660" y="376" font-family="Liberation Sans, sans-serif" font-size="10.1" textLength="32.1" lengthAdjust="spacingAndGlyphs" fill="#fff">27832.2</text>
<rect x="1656" y="404" width="41" height="11" fill="#000" shape-rendering="crispEdges"/>
<rect x="1656" y="403" width="41" height="11" fill="#32cd32" shape-rendering="crispEdges"/>
<text x="1660" y="412" font-family="Liberation Sans, sans-serif" font-size="10.1" textLength="32.1" lengthAdjust="spacingAndGlyphs" fill="#fff">27686.0</text>
<rect x="1656" y="423" width="41" height="11" fill="#0000ff" shape-rendering="crispEdges"/>
<text x="1660" y="432" font-family="Liberation Sans, sans-serif" font-size="10.1" textLength="32.1" lengthAdjust="spacingAndGlyphs" fill="#fff">27606.5</text>
<rect x="1656" y="440" width="41" height="11" fill="#0000ff" shape-rendering="crispEdges"/>
<text x="1660" y="449" font-family="Liberation Sans, sans-serif" font-size="10.1" textLength="32.1" lengthAdjust="spacingAndGlyphs" fill="#fff">27535.5</text>
</svg><div id="panel">
<div class="blk" style="left:0;top:0;width:51px;height:57px"></div>
<div class="blk" style="left:166px;top:0;width:52px;height:57px"></div>
<div class="blk" style="left:0;top:24px;width:108px;height:33px;background:linear-gradient(to bottom,#d62a2a 0,#c81818 40%,#a80202 100%)"></div>
<div class="blk" style="left:110px;top:24px;width:108px;height:33px;background:linear-gradient(to bottom,#d62a2a 0,#c81818 40%,#a80202 100%)"></div>
<div style="position:absolute;left:3px;top:23px;width:44px;height:1px;background:#f7a0a0"></div>
<div style="position:absolute;left:170px;top:23px;width:44px;height:1px;background:#f7a0a0"></div>
<div style="position:absolute;left:51px;top:-1px;width:115px;height:25px;background:#fff"></div>
<div id="vol"><div class="b" style="left:0;border-right:1px solid #a9a9b4"><svg width="18" height="17" viewBox="0 0 18 17" style="position:absolute;left:0;top:0"><path d="M7.500 8h5.400l-2.700 3z" fill="#5060c0"/></svg></div><div class="f">1.00</div><div class="b" style="left:88px;border-left:1px solid #a9a9b4"><svg width="18" height="17" viewBox="0 0 18 17" style="position:absolute;left:0;top:0"><path d="M7.500 11h5.400l-2.700-3z" fill="#5060c0"/></svg></div></div>
<div class="pw" style="left:0;top:4px;width:49px;text-align:center;font-size:12px;line-height:16px;letter-spacing:-0.5px">SELL</div>
<div class="pw" style="left:166px;top:4px;width:52px;text-align:center;font-size:12px;line-height:16px;letter-spacing:-0.3px">BUY</div>
<div class="pw" style="left:15px;top:41px;font-size:11.5px;line-height:14px;font-weight:bold;letter-spacing:0.2px">27683</div>
<div class="pw" style="left:51.8px;top:21.7px;font-size:33.5px;line-height:38px;letter-spacing:3px;transform:scaleX(0.86);transform-origin:0 0">.5</div>
<div class="pw" style="left:125px;top:41px;font-size:11.5px;line-height:14px;font-weight:bold;letter-spacing:0.2px">27706</div>
<div class="pw" style="left:162.8px;top:21.7px;font-size:33.5px;line-height:38px;letter-spacing:3px;transform:scaleX(0.86);transform-origin:0 0">.5</div>
</div>
</body></html>
